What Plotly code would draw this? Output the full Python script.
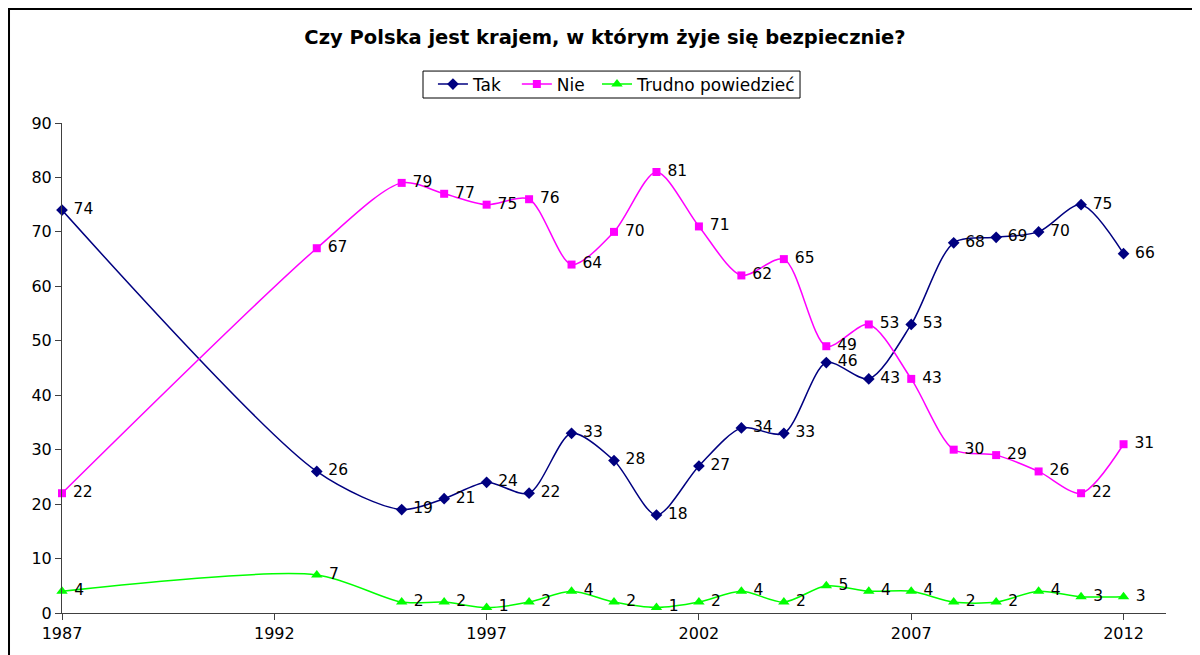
import plotly.graph_objects as go

years = [1987, 1993, 1995, 1996, 1997, 1998, 1999, 2000, 2001, 2002, 2003, 2004,
         2005, 2006, 2007, 2008, 2009, 2010, 2011, 2012]
tak = [74, 26, 19, 21, 24, 22, 33, 28, 18, 27, 34, 33, 46, 43, 53, 68, 69, 70, 75, 66]
nie = [22, 67, 79, 77, 75, 76, 64, 70, 81, 71, 62, 65, 49, 53, 43, 30, 29, 26, 22, 31]
trudno = [4, 7, 2, 2, 1, 2, 4, 2, 1, 2, 4, 2, 5, 4, 4, 2, 2, 4, 3, 3]

x_ticks = [1987, 1992, 1997, 2002, 2007, 2012]
y_ticks = [0, 10, 20, 30, 40, 50, 60, 70, 80, 90]

FONT = "DejaVu Sans, Verdana, sans-serif"

series = [
    ("Tak", tak, "#000080", "diamond", 9, "legend", 0.336),
    ("Nie", nie, "#FF00FF", "square", 8, "legend2", 0.412),
    ("Trudno powiedzieć", trudno, "#00FF00", "triangle-up", 10, "legend3", 0.4846),
]

fig = go.Figure()
legend_layouts = {}
for name, vals, color, sym, size, leg, lx in series:
    fig.add_trace(go.Scatter(
        x=years, y=vals, name=name, legend=leg,
        mode="lines+markers+text",
        line=dict(color=color, width=1.5, shape="spline", smoothing=0.8),
        marker=dict(color=color, symbol=sym, size=size),
        text=[" " + str(v) for v in vals],
        textposition="middle right",
        textfont=dict(family=FONT, size=15.5, color="black"),
        cliponaxis=False,
    ))
    legend_layouts[leg] = dict(orientation="h", x=lx, xanchor="left", y=1.0786,
                               yanchor="middle", borderwidth=0,
                               bgcolor="rgba(0,0,0,0)", font=dict(size=17))

fig.update_layout(
    width=1200, height=655,
    paper_bgcolor="white", plot_bgcolor="white",
    margin=dict(l=54, r=42, t=115, b=50),
    font=dict(family=FONT, size=16, color="black"),
    title=dict(text="<b>Czy Polska jest krajem, w którym żyje się bezpiecznie?</b>",
               x=0.4975, xanchor="center", y=0.9557, yanchor="middle",
               font=dict(size=19.5, color="black")),
    showlegend=True,
    **legend_layouts,
)
fig.update_xaxes(range=[1987, 2013], tickvals=x_ticks, ticks="outside", ticklen=6,
                 showline=True, linecolor="#404040", linewidth=1, showgrid=False,
                 zeroline=False, tickcolor="#404040", tickfont=dict(size=16))
fig.update_yaxes(range=[0, 90], tickvals=y_ticks, ticks="outside", ticklen=6,
                 showline=True, linecolor="#404040", linewidth=1, showgrid=False,
                 zeroline=False, tickcolor="#404040", tickfont=dict(size=16))

# outer chart frame
fig.add_shape(type="rect", xref="paper", yref="paper",
              x0=-0.048, x1=1.3, y0=-0.5, y1=1.2327,
              line=dict(color="black", width=2), fillcolor="rgba(0,0,0,0)", layer="below")
# legend box
fig.add_shape(type="rect", xref="paper", yref="paper",
              x0=0.327, x1=0.6685, y0=1.051, y1=1.106,
              line=dict(color="black", width=1), fillcolor="white", layer="below")

fig.write_html("out.html")
